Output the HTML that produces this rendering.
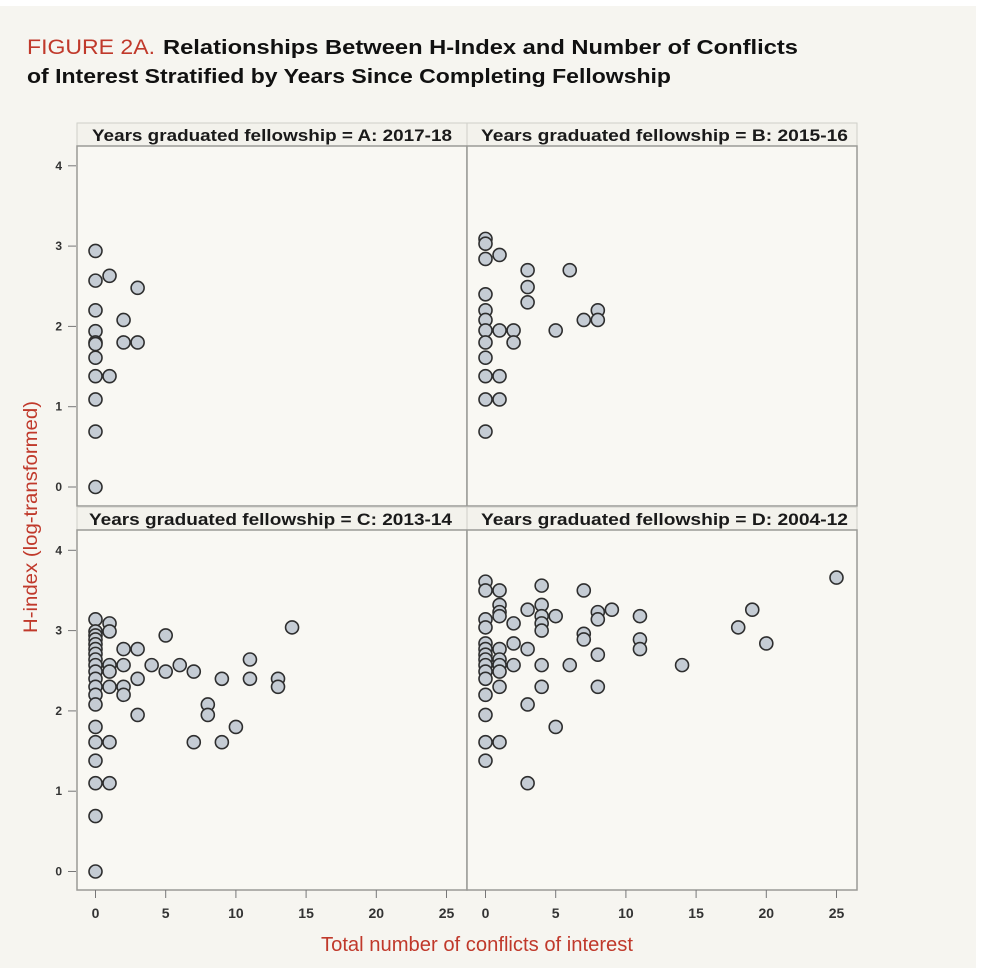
<!DOCTYPE html>
<html><head><meta charset="utf-8"><style>
html,body{margin:0;padding:0;background:#fff;}
svg{display:block;font-family:"Liberation Sans",sans-serif;}
</style></head><body>
<svg id="chart" width="992" height="970" viewBox="0 0 992 970">
<rect x="0" y="6" width="976" height="962" fill="#f6f5f0"/>
<text x="27" y="54" font-size="21" fill="#c0392b" textLength="128" lengthAdjust="spacingAndGlyphs">FIGURE 2A.</text>
<text x="163" y="54" font-size="20" font-weight="bold" fill="#111" textLength="635" lengthAdjust="spacingAndGlyphs">Relationships Between H-Index and Number of Conflicts</text>
<text x="27" y="83" font-size="20" font-weight="bold" fill="#111" textLength="644" lengthAdjust="spacingAndGlyphs">of Interest Stratified by Years Since Completing Fellowship</text>
<text transform="translate(37,517) rotate(-90)" text-anchor="middle" font-size="19" fill="#c0392b" textLength="232" lengthAdjust="spacingAndGlyphs">H-index (log-transformed)</text>
<text x="477" y="951" text-anchor="middle" font-size="20" fill="#c0392b" textLength="312" lengthAdjust="spacingAndGlyphs">Total number of conflicts of interest</text>
<g id="panels"></g>
</svg>
<script>
const xTicks = [0, 5, 10, 15, 20, 25];
const yTicks = [0, 1, 2, 3, 4];
const panelTitles = ["Years graduated fellowship = A: 2017-18", "Years graduated fellowship  = B: 2015-16", "Years graduated fellowship  = C: 2013-14", "Years graduated fellowship  = D: 2004-12"];
const aX = [0,0,1,3,0,2,0,0,0,2,3,0,0,1,0,0,0];
const aY = [2.94,2.57,2.63,2.48,2.20,2.08,1.94,1.80,1.78,1.80,1.80,1.61,1.38,1.38,1.09,0.69,0];
const bX = [0,0,0,1,3,6,3,3,0,0,8,0,7,8,0,1,2,5,0,2,0,0,1,0,1,0];
const bY = [3.09,3.03,2.84,2.89,2.70,2.70,2.49,2.30,2.40,2.20,2.20,2.08,2.08,2.08,1.95,1.95,1.95,1.95,1.80,1.80,1.61,1.38,1.38,1.09,1.09,0.69];
const cX = [0,0,0,0,0,0,0,0,0,0,0,0,0,0,0,0,0,0,0,0,1,1,1,1,1,1,1,2,2,2,2,3,3,3,4,5,5,6,7,7,8,8,9,9,10,11,11,13,13,14];
const cY = [3.14,2.99,2.94,2.89,2.83,2.77,2.71,2.64,2.57,2.49,2.40,2.30,2.20,2.08,1.80,1.61,1.38,1.10,0.69,0,3.09,2.99,2.57,2.49,2.30,1.61,1.10,2.77,2.57,2.30,2.20,2.77,2.40,1.95,2.57,2.94,2.49,2.57,2.49,1.61,2.08,1.95,2.40,1.61,1.80,2.64,2.40,2.40,2.30,3.04];
const dX = [0,0,0,0,0,0,0,0,0,0,0,0,0,0,0,1,1,1,1,1,1,1,1,1,1,2,2,2,3,3,3,3,4,4,4,4,4,4,4,5,5,6,7,7,7,8,8,8,8,9,11,11,11,14,18,19,20,25];
const dY = [3.61,3.50,3.14,3.04,2.84,2.77,2.70,2.64,2.57,2.49,2.40,2.20,1.95,1.61,1.38,3.50,3.32,3.23,3.18,2.77,2.64,2.57,2.49,2.30,1.61,3.09,2.84,2.57,3.26,2.77,2.08,1.10,3.56,3.32,3.18,3.09,3.00,2.57,2.30,3.18,1.80,2.57,3.50,2.96,2.89,3.23,3.14,2.70,2.30,3.26,3.18,2.89,2.77,2.57,3.04,3.26,2.84,3.66];
const seriesX = [aX, bX, cX, dX];
const seriesY = [aY, bY, cY, dY];

const NS = "http://www.w3.org/2000/svg";
const root = document.getElementById("panels");
function mk(tag, attrs, parent) {
  const e = document.createElementNS(NS, tag);
  for (const k in attrs) e.setAttribute(k, attrs[k]);
  parent.appendChild(e);
  return e;
}
const colL = [77, 467], colW = 390;
const rowT = [123, 507];
const headH = 23, plotH = 360;
const letters = ["a","b","c","d"];
const headX = [92, 481, 89, 481];
const headW = [360, 367, 363, 367];
for (let i = 0; i < 4; i++) {
  const col = i % 2, row = Math.floor(i / 2);
  const L = colL[col], T = rowT[row], PT = T + headH, PB = PT + plotH;
  const xs = v => (col === 0 ? 95.5 : 485.5) + v * 14.04;
  const ys = v => (row === 0 ? 487 : 871.5) - v * 80.3;
  const g = mk("g", {}, root);
  
  
  const hd = mk("rect", {x: L, y: T, width: colW, height: headH, fill: "#f3f2ec", stroke: "#cfcfc9", "stroke-width": 1}, g);
  
  
  const ht = mk("text", {x: headX[i], y: T + 18, "font-size": 17, "font-weight": "600", fill: "#1a1a1a", textLength: headW[i], lengthAdjust: "spacingAndGlyphs"}, g);
  ht.textContent = panelTitles[i];
  
  
  const pr = mk("rect", {x: L, y: PT, width: colW, height: plotH, fill: "#f9f8f3", stroke: "#9a9a96", "stroke-width": 1.5}, g);
  
  
  if (col === 0) {
    yTicks.forEach(t => {
      const tl = mk("line", {x1: 68, x2: 76, y1: ys(t), y2: ys(t), stroke: "#777", "stroke-width": 1}, g);
      
      
      const tx = mk("text", {x: 62, y: ys(t) + 4, "text-anchor": "end", "font-size": 12, "font-weight": "bold", fill: "#333"}, g);
      tx.textContent = t;
      
      
    });
  }
  if (row === 1) {
    xTicks.forEach(t => {
      const tl = mk("line", {x1: xs(t), x2: xs(t), y1: PB, y2: PB + 8, stroke: "#777", "stroke-width": 1}, g);
      
      
      const tx = mk("text", {x: xs(t), y: PB + 28, "text-anchor": "middle", "font-size": 14, "font-weight": "bold", fill: "#333"}, g);
      tx.textContent = t;
      
      
    });
  }
  const X = seriesX[i], Y = seriesY[i];
  for (let k = 0; k < X.length; k++) {
    const c = mk("circle", {cx: xs(X[k]), cy: ys(Y[k]), r: 6.5, fill: "#c5ccd4", stroke: "#2e2e2e", "stroke-width": 1.6}, g);
    
    
  }
}
</script>
</body></html>
